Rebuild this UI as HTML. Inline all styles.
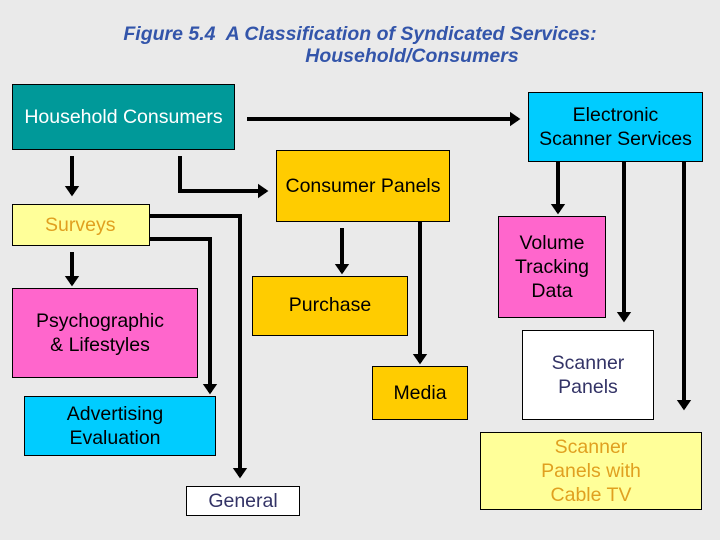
<!DOCTYPE html>
<html><head><meta charset="utf-8"><style>
body{margin:0;width:720px;height:540px;background:#eaeaea;position:relative;overflow:hidden;font-family:"Liberation Sans",sans-serif}
.b{position:absolute;box-sizing:border-box;border:1px solid #000;display:flex;align-items:center;justify-content:center;text-align:center;font-size:19.5px;line-height:24px;color:#000;white-space:nowrap}
.t{position:absolute;left:0;width:720px;text-align:center;color:#3355aa;font-weight:bold;font-style:italic;font-size:19.5px}
</style></head><body>
<div class="t" style="top:23px">Figure 5.4&nbsp; A Classification of Syndicated Services:</div>
<div class="t" style="top:45px;left:52px">Household/Consumers</div>
<div class="b" style="left:12px;top:84px;width:223px;height:66px;background:#009999;color:#fff">Household Consumers</div>
<div class="b" style="left:528px;top:92px;width:175px;height:70px;background:#00ccff">Electronic<br>Scanner Services</div>
<div class="b" style="left:276px;top:150px;width:174px;height:72px;background:#ffcc00">Consumer Panels</div>
<div class="b" style="left:12px;top:204px;width:138px;height:42px;background:#ffff99;color:#e0a020;align-items:flex-start;padding-top:8px;justify-content:flex-start;padding-left:32px">Surveys</div>
<div class="b" style="left:12px;top:288px;width:186px;height:90px;background:#ff66cc;padding-right:10px">Psychographic<br>&amp; Lifestyles</div>
<div class="b" style="left:24px;top:396px;width:192px;height:60px;background:#00ccff;padding-right:10px">Advertising<br>Evaluation</div>
<div class="b" style="left:186px;top:486px;width:114px;height:30px;background:#fff;color:#333366">General</div>
<div class="b" style="left:252px;top:276px;width:156px;height:60px;background:#ffcc00;padding-bottom:2px">Purchase</div>
<div class="b" style="left:372px;top:366px;width:96px;height:54px;background:#ffcc00">Media</div>
<div class="b" style="left:498px;top:216px;width:108px;height:102px;background:#ff66cc;align-items:flex-start;padding-top:14px">Volume<br>Tracking<br>Data</div>
<div class="b" style="left:522px;top:330px;width:132px;height:90px;background:#fff;color:#333366;align-items:flex-start;padding-top:20px">Scanner<br>Panels</div>
<div class="b" style="left:480px;top:432px;width:222px;height:78px;background:#ffff99;color:#e0a020">Scanner<br>Panels with<br>Cable TV</div>
<svg width="720" height="540" style="position:absolute;left:0;top:0" fill="none" stroke="#000" stroke-width="4">
<defs><marker id="a" markerWidth="4" markerHeight="4" refX="2" refY="2" orient="auto" markerUnits="strokeWidth"><path d="M0,0.2L2.6,2L0,3.8z" fill="#000" stroke="none"/></marker></defs>
<path d="M247 119H518" marker-end="url(#a)"/>
<path d="M72 156V194" marker-end="url(#a)"/>
<path d="M180 156V191H266" marker-end="url(#a)"/>
<path d="M72 252V284" marker-end="url(#a)"/>
<path d="M150 239H210V392" marker-end="url(#a)"/>
<path d="M150 216H240V476" marker-end="url(#a)"/>
<path d="M342 228V272" marker-end="url(#a)"/>
<path d="M420 222V362" marker-end="url(#a)"/>
<path d="M558 162V212" marker-end="url(#a)"/>
<path d="M624 162V320" marker-end="url(#a)"/>
<path d="M684 162V408" marker-end="url(#a)"/>
</svg>
</body></html>
